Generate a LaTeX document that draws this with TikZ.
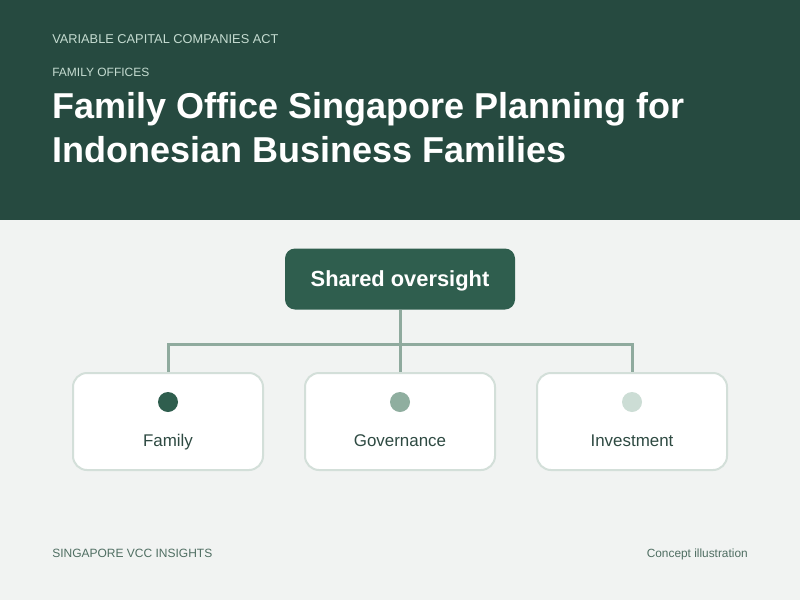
\documentclass[tikz,border=0pt]{standalone}
\usepackage{fontspec}
\setmainfont{Liberation Sans}
\setsansfont{Liberation Sans}
\definecolor{hdr}{HTML}{264A40}
\definecolor{bg}{HTML}{F1F3F2}
\definecolor{hdrtxt}{HTML}{C5DCD1}
\definecolor{topfill}{HTML}{2F5E4E}
\definecolor{conn}{HTML}{8FAA9E}
\definecolor{cardborder}{HTML}{D3DFD9}
\definecolor{dotA}{HTML}{2F5E4E}
\definecolor{dotB}{HTML}{8FAE9F}
\definecolor{dotC}{HTML}{CCDDD5}
\definecolor{lbl}{HTML}{2E4A42}
\definecolor{foot}{HTML}{4F6E62}
\begin{document}
\begin{tikzpicture}[x=0.75pt,y=-0.75pt,
  card/.style={draw=cardborder,line width=1.5pt,fill=white,rounded corners=10.5pt,minimum width=142.5pt,minimum height=72.75pt,inner sep=0pt},
  topbox/.style={fill=topfill,rounded corners=7.5pt,minimum width=172.5pt,minimum height=45.75pt,inner sep=0pt,text=white,text height=11.8pt,text depth=0pt,font=\bfseries\fontsize{16.4}{19}\selectfont},
  conn/.style={draw=conn,line width=2.25pt},
  dot/.style={circle,minimum size=15pt,inner sep=0pt},
  lbltext/.style={text=lbl,font=\fontsize{12.7}{15}\selectfont,inner sep=0pt,text height=9.1pt,text depth=0pt},
  small/.style={anchor=base west,inner sep=0pt,font=\fontsize{9}{10}\selectfont}]
\useasboundingbox (0,0) rectangle (800,600);
\fill[bg] (0,0) rectangle (800,600);
\fill[hdr] (0,0) rectangle (800,220);
\node[small,text=hdrtxt,font=\fontsize{9.6}{11}\selectfont] (kicker) at (52,43) {VARIABLE CAPITAL COMPANIES ACT};
\node[small,text=hdrtxt] (sub) at (52,76) {FAMILY OFFICES};
\node[anchor=base west,inner sep=0pt,text=white,font=\bfseries\fontsize{27}{33}\selectfont,align=left] (title) at (52,162) {Family Office Singapore Planning for\\Indonesian Business Families};
\node[topbox] (top) at (400,279) {Shared oversight};
\node[card] (fam) at (168,421.5) {};
\node[card] (gov) at (400,421.5) {};
\node[card] (inv) at (632,421.5) {};
\coordinate (bus) at (400,344);
\draw[conn] (top.south) -- (gov.north);
\draw[conn] (fam.north) |- (bus) -| (inv.north);
\node[dot,fill=dotA] (dfam) at (168,402) {};
\node[dot,fill=dotB] (dgov) at (400,402) {};
\node[dot,fill=dotC] (dinv) at (632,402) {};
\node[lbltext] (lfam) at (168,440.5) {Family};
\node[lbltext] (lgov) at (400,440.5) {Governance};
\node[lbltext] (linv) at (632,440.5) {Investment};
\node[small,text=foot] (fl) at (52,557) {SINGAPORE VCC INSIGHTS};
\node[anchor=base east,inner sep=0pt,text=foot,font=\fontsize{8.9}{10}\selectfont] (fr) at (748,557) {Concept illustration};
\end{tikzpicture}
\end{document}
